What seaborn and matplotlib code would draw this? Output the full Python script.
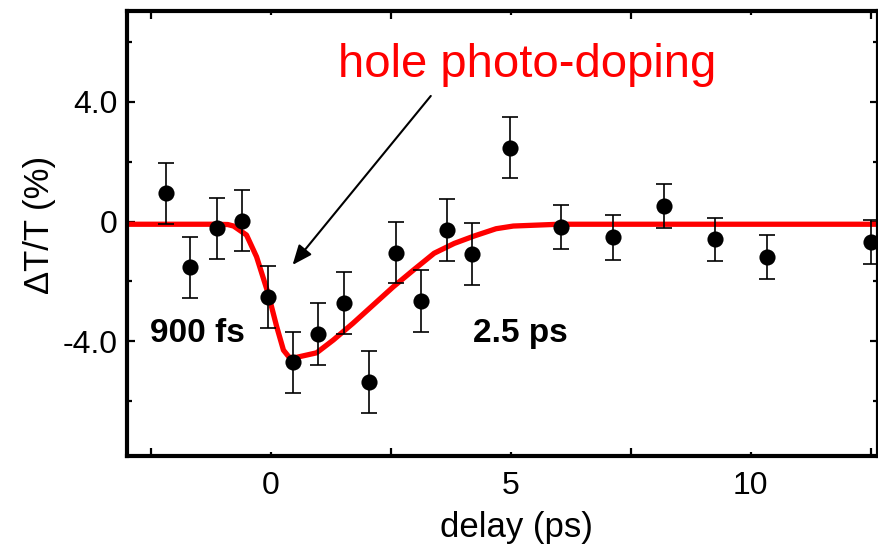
import numpy as np
import pandas as pd
import matplotlib
matplotlib.use("Agg")
import matplotlib.pyplot as plt
from matplotlib.ticker import FixedLocator, FixedFormatter
import seaborn as sns

# Measured transient transmission change vs pump-probe delay
delay_ps = [-2.19, -1.69, -1.13, -0.60, -0.06, 0.45, 0.98, 1.53, 2.05, 2.60,
            3.12, 3.67, 4.18, 4.98, 6.04, 7.12, 8.19, 9.26, 10.33, 12.50]
dT_T = [0.94, -1.53, -0.23, 0.03, -2.52, -4.71, -3.76, -2.72, -5.36, -1.04,
        -2.65, -0.28, -1.09, 2.47, -0.17, -0.53, 0.52, -0.60, -1.18, -0.68]
dT_T_err = [1.03, 1.03, 1.03, 1.03, 1.03, 1.03, 1.03, 1.03, 1.03, 1.03,
            1.03, 1.03, 1.03, 1.02, 0.74, 0.74, 0.74, 0.72, 0.73, 0.74]

# Fit curve (900 fs rise, 2.5 ps recovery)
fit_delay = [-3.0, -2.0, -1.2, -0.9, -0.78, -0.51, -0.30, -0.06, 0.12, 0.26,
             0.37, 0.45, 0.95, 1.30, 1.71, 2.13, 2.55, 2.97, 3.40, 3.82,
             4.24, 4.69, 5.05, 6.0, 12.7]
fit_dT_T = [-0.09, -0.09, -0.09, -0.10, -0.15, -0.45, -1.18, -2.40, -3.52, -4.30,
            -4.52, -4.57, -4.39, -3.96, -3.40, -2.79, -2.18, -1.62, -1.06, -0.73,
            -0.48, -0.24, -0.15, -0.09, -0.09]

x_major = [0, 5, 10]
x_major_labels = ["0", "5", "10"]
x_minor = [-2.5, 2.5, 7.5, 12.5]
y_major = [-4, 0, 4]
y_major_labels = ["-4.0", "0", "4.0"]
y_minor = [-6, -2, 2, 6]

sns.set_style("ticks")
plt.rcParams["font.family"] = ["Liberation Sans", "DejaVu Sans"]
plt.rcParams["text.color"] = "black"
plt.rcParams["axes.labelcolor"] = "black"
plt.rcParams["xtick.color"] = "black"
plt.rcParams["ytick.color"] = "black"

points = pd.DataFrame({"delay": delay_ps, "dtt": dT_T, "err": dT_T_err})
fit = pd.DataFrame({"delay": fit_delay, "dtt": fit_dT_T})

fig = plt.figure(figsize=(8.79, 5.51), dpi=100)
ax = fig.add_axes([0.1445, 0.1724, 0.8544, 0.8076])

sns.lineplot(data=fit, x="delay", y="dtt", ax=ax, color="#ff0000",
             linewidth=3.8, zorder=2, sort=False)
ax.errorbar(points["delay"], points["dtt"], yerr=points["err"], fmt="none",
            ecolor="black", elinewidth=1.2, capsize=5.5, capthick=1.2,
            zorder=3, clip_on=False)
sns.scatterplot(data=points, x="delay", y="dtt", ax=ax, color="black",
                s=135, linewidth=0, zorder=4, clip_on=False)

ax.set_xlim(-3.0, 12.65)
ax.set_ylim(-7.84, 7.04)

ax.xaxis.set_major_locator(FixedLocator(x_major))
ax.xaxis.set_major_formatter(FixedFormatter(x_major_labels))
ax.xaxis.set_minor_locator(FixedLocator(x_minor))
ax.yaxis.set_major_locator(FixedLocator(y_major))
ax.yaxis.set_major_formatter(FixedFormatter(y_major_labels))
ax.yaxis.set_minor_locator(FixedLocator(y_minor))

ax.tick_params(which="both", direction="in", top=True, right=True,
               width=1.6, color="black", labelcolor="black", labelsize=23)
ax.tick_params(axis="x", which="major", length=3, pad=11)
ax.tick_params(axis="x", which="minor", length=6)
ax.tick_params(axis="y", which="major", length=6, pad=7)
ax.tick_params(axis="y", which="minor", length=3.6)

for side in ["left", "right", "top", "bottom"]:
    ax.spines[side].set_visible(True)
    ax.spines[side].set_linewidth(3)
    ax.spines[side].set_color("black")

ax.set_xlabel("delay (ps)", fontsize=25, color="black")
ax.set_ylabel("\u0394T/T (%)", fontsize=25, color="black")
ax.xaxis.label.set_va("center")
ax.xaxis.set_label_coords(0.519, -0.16)
ax.yaxis.label.set_va("center")
ax.yaxis.set_label_coords(-0.116, 0.52)

ax.text(-2.52, -4.03, "900 fs", fontsize=24, fontweight="bold",
        ha="left", va="baseline", color="black")
ax.text(4.21, -4.03, "2.5 ps", fontsize=24, fontweight="bold",
        ha="left", va="baseline", color="black")
ax.text(5.33, 4.83, "hole photo-doping", fontsize=34, color="#ff0000",
        ha="center", va="baseline")

ax.annotate("", xy=(0.45, -1.45), xytext=(3.33, 4.2),
            arrowprops=dict(arrowstyle="-|>,head_length=0.6,head_width=0.25",
                            mutation_scale=20, color="black", lw=1.5,
                            shrinkA=0, shrinkB=0))

fig.savefig("out.png", dpi=100)
